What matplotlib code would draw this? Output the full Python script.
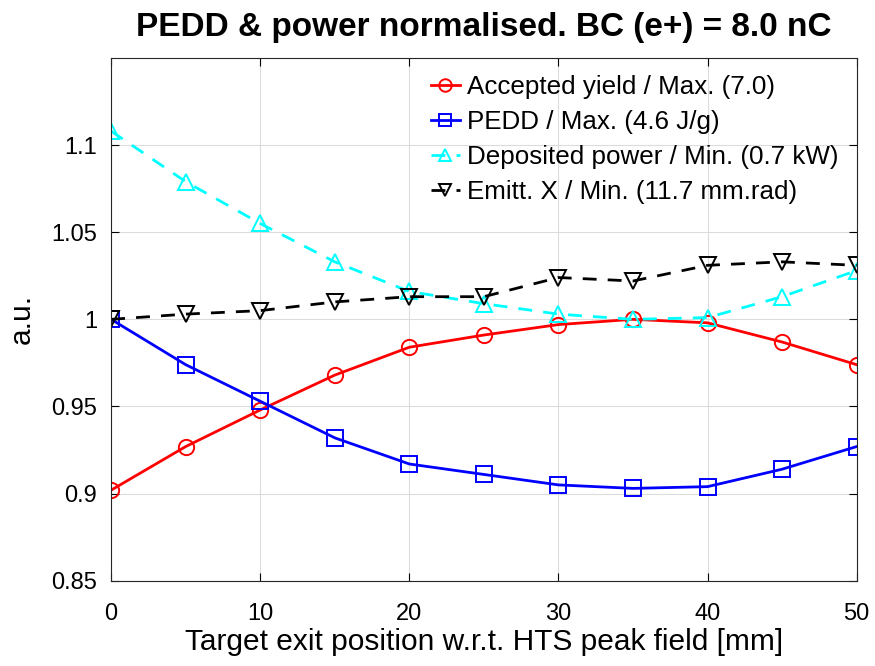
import matplotlib
matplotlib.use("Agg")
import matplotlib.pyplot as plt

plt.rcParams["font.family"] = ["Liberation Sans", "DejaVu Sans"]

position = [0, 5, 10, 15, 20, 25, 30, 35, 40, 45, 50]
yield_norm = [0.902, 0.927, 0.948, 0.968, 0.984, 0.991, 0.997, 1.000, 0.998, 0.987, 0.974]
pedd_norm = [1.000, 0.974, 0.953, 0.932, 0.917, 0.911, 0.905, 0.903, 0.904, 0.914, 0.927]
power_norm = [1.108, 1.079, 1.055, 1.033, 1.016, 1.009, 1.003, 1.000, 1.001, 1.013, 1.028]
emitt_norm = [1.000, 1.003, 1.005, 1.010, 1.013, 1.013, 1.024, 1.022, 1.031, 1.033, 1.031]

labels = [
    "Accepted yield / Max. (7.0)",
    "PEDD / Max. (4.6 J/g)",
    "Deposited power / Min. (0.7 kW)",
    "Emitt. X / Min. (11.7 mm.rad)",
]

fig = plt.figure(figsize=(8.75, 6.66), dpi=100)
ax = fig.add_axes([0.127, 0.128, 0.852, 0.785])

mk = dict(markersize=11, markerfacecolor="none", markeredgewidth=1.4)
ax.plot(position, yield_norm, "-o", color="red", lw=2, label=labels[0], **mk)
ax.plot(position, pedd_norm, "-s", color="blue", lw=2, label=labels[1], **mk)
ax.plot(position, power_norm, "--^", color="cyan", lw=2, dashes=(5, 4), label=labels[2], **mk)
ax.plot(position, emitt_norm, "--v", color="black", lw=2, dashes=(5, 4), label=labels[3], **mk)

ax.set_xlim(0, 50)
ax.set_ylim(0.85, 1.15)
ax.set_xticks([0, 10, 20, 30, 40, 50])
ax.set_yticks([0.85, 0.9, 0.95, 1.0, 1.05, 1.1])
ax.set_yticklabels(["0.85", "0.9", "0.95", "1", "1.05", "1.1"])
ax.grid(True, color="#dcdcdc", lw=0.8)
ax.tick_params(direction="in", length=6, labelsize=17, top=True, right=True)
ax.tick_params(axis="x", pad=16)
ax.tick_params(axis="y", pad=10)
for spine in ax.spines.values():
    spine.set_linewidth(0.8)
    spine.set_edgecolor("#262626")

ax.set_xlabel("Target exit position w.r.t. HTS peak field [mm]", fontsize=21.5, labelpad=2)
ax.set_ylabel("a.u.", fontsize=21.5, labelpad=11)
ax.set_title("PEDD & power normalised. BC (e+) = 8.0 nC", fontsize=24, fontweight="bold", pad=16)

leg = ax.legend(loc="upper right", frameon=False, fontsize=18.7, handlelength=1.1,
                handletextpad=0.3, labelspacing=0.42, borderaxespad=0.2,
                bbox_to_anchor=(0.997, 0.997))
for h in leg.legend_handles:
    h.set_markersize(9)

fig.savefig("out.png", dpi=100)
